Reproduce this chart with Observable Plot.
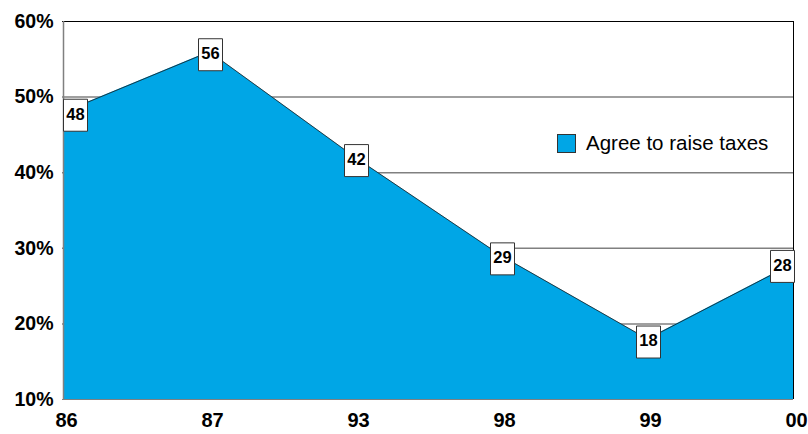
<!DOCTYPE html>
<html>
<head>
<meta charset="utf-8">
<script src="https://cdn.jsdelivr.net/npm/d3@7"></script>
<script src="https://cdn.jsdelivr.net/npm/@observablehq/plot@0.6"></script>
<style>
  html, body { margin: 0; padding: 0; background: #fff; }
  #wrap { position: relative; width: 808px; height: 434px; font-family: "Liberation Sans", Arial, sans-serif; }
  #legend { position: absolute; left: 557px; top: 131px; display: flex; align-items: center; font-size: 20.5px; color: #000; }
  #legend .sw { width: 17px; height: 17px; background: #00A6E6; border: 1px solid #333; margin-right: 10px; }
</style>
</head>
<body>
<div id="wrap"></div>
<script>
const years = ["86", "87", "93", "98", "99", "00"];
const values = [48, 56, 42, 29, 18, 28];
const yTicks = [10, 20, 30, 40, 50, 60];
const seriesName = "Agree to raise taxes";

const data = years.map((year, i) => ({year, value: values[i]}));
const fillColor = "#00A6E6";

const box = {draw(ctx) { ctx.rect(-12, -16, 24, 32); }};

function labelMarks(filter, dx) {
  return [
    Plot.dot(data, {filter, x: "year", y: "value", symbol: box, fill: "white", stroke: "#333", strokeWidth: 1, dx, dy: 3}),
    Plot.text(data, {filter, x: "year", y: "value", text: d => String(d.value), dx, dy: 2,
      fontSize: 16.5, fontWeight: "bold", fill: "#000"})
  ];
}

const last = years.length - 1;

const chart = Plot.plot({
  width: 808,
  height: 434,
  marginLeft: 62,
  marginRight: 15,
  marginTop: 21,
  marginBottom: 35,
  style: {fontFamily: "'Liberation Sans', Arial, sans-serif", background: "white", color: "#000"},
  x: {type: "point", domain: years, padding: 0, label: null},
  y: {domain: [10, 60], label: null},
  marks: [
    Plot.ruleY(yTicks.filter(t => t > 10 && t < 60), {stroke: "#808080", strokeWidth: 1.5}),
    Plot.ruleX([years[last]], {stroke: "#000", strokeWidth: 1}),
    Plot.areaY(data, {x: "year", y1: 10, y2: "value", fill: fillColor}),
    Plot.lineY(data, {x: "year", y: "value", stroke: "#1a1a1a", strokeWidth: 0.8}),
    Plot.ruleY([60], {stroke: "#000", strokeWidth: 1}),
    Plot.ruleX([years[0]], {stroke: "#808080", strokeWidth: 1.5}),
    Plot.ruleY([10], {stroke: "#808080", strokeWidth: 1}),
    Plot.axisY({ticks: yTicks, tickFormat: d => d + "%", tickSize: 0, tickPadding: 9,
      fontSize: 19.5, fontWeight: "bold", label: null}),
    Plot.axisX({tickSize: 0, tickPadding: 13, fontSize: 20, fontWeight: "bold", label: null, dx: 3}),
    ...labelMarks((d, i) => i === 0, 12),
    ...labelMarks((d, i) => i > 0 && i < last, 1),
    ...labelMarks((d, i) => i === last, -11)
  ]
});

const wrap = document.getElementById("wrap");
wrap.appendChild(chart);
const legend = document.createElement("div");
legend.id = "legend";
legend.innerHTML = `<div class="sw"></div><span></span>`;
legend.querySelector("span").textContent = seriesName;
wrap.appendChild(legend);
</script>
</body>
</html>
